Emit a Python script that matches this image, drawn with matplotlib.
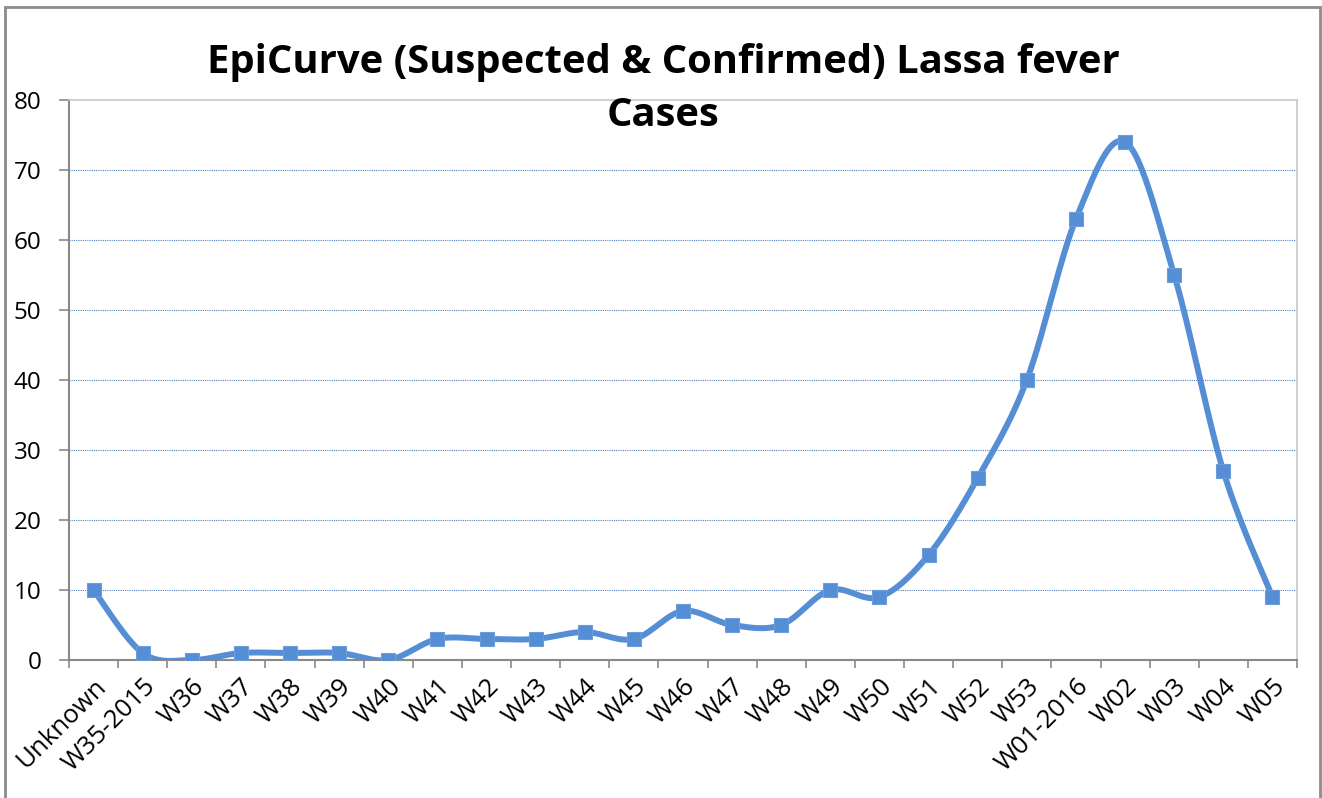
import numpy as np
import matplotlib
matplotlib.use("Agg")
import matplotlib.pyplot as plt
from matplotlib.patches import Rectangle

categories = ["Unknown", "W35-2015", "W36", "W37", "W38", "W39", "W40", "W41", "W42",
              "W43", "W44", "W45", "W46", "W47", "W48", "W49", "W50", "W51", "W52",
              "W53", "W01-2016", "W02", "W03", "W04", "W05"]
cases = [10, 1, 0, 1, 1, 1, 0, 3, 3, 3, 4, 3, 7, 5, 5, 10, 9, 15, 26, 40, 63, 74, 55, 27, 9]
yticks = [0, 10, 20, 30, 40, 50, 60, 70, 80]
title = "EpiCurve (Suspected & Confirmed) Lassa fever\nCases"

FONT = ["Open Sans", "DejaVu Sans"]
plt.rcParams["font.family"] = FONT

W, H = 1322, 798
fig = plt.figure(figsize=(W / 100, H / 100), dpi=100)
ax = fig.add_axes([69 / W, 1 - 660 / H, (1297 - 69) / W, (660 - 100) / H])


def smooth(xs, ys, n=30):
    # Bezier smoothing (Catmull-Rom style, like spreadsheet smoothed lines)
    xs = np.asarray(xs, float)
    ys = np.asarray(ys, float)
    px = np.concatenate([[xs[0]], xs, [xs[-1]]])
    py = np.concatenate([[ys[0]], ys, [ys[-1]]])
    outx, outy = [], []
    t = np.linspace(0, 1, n)
    for i in range(1, len(px) - 2):
        p0 = np.array([px[i], py[i]])
        p3 = np.array([px[i + 1], py[i + 1]])
        c1 = p0 + (np.array([px[i + 1], py[i + 1]]) - np.array([px[i - 1], py[i - 1]])) / 6
        c2 = p3 - (np.array([px[i + 2], py[i + 2]]) - np.array([px[i], py[i]])) / 6
        b = ((1 - t) ** 3)[:, None] * p0 + (3 * (1 - t) ** 2 * t)[:, None] * c1 + \
            (3 * (1 - t) * t ** 2)[:, None] * c2 + (t ** 3)[:, None] * p3
        outx.extend(b[:, 0])
        outy.extend(b[:, 1])
    return np.array(outx), np.array(outy)


x = np.arange(len(categories))
sx, sy = smooth(x, cases)
ax.plot(sx, sy, color="#558ED5", lw=4.3, solid_capstyle="round", zorder=3)
ax.plot(x, cases, ls="none", marker="s", ms=9.8, mfc="#558ED5", mec="#6C9DDB",
        mew=0.8, zorder=4)

ax.set_xlim(-0.5, len(categories) - 0.5)
ax.set_ylim(0, 80)
ax.set_yticks(yticks)
ax.set_yticklabels([str(v) for v in yticks], fontsize=17.5)
for v in yticks[1:-1]:
    ax.axhline(v, color="#4F81BD", lw=0.8, ls=(0, (1, 1)), zorder=1)

ax.set_xticks(np.arange(-0.5, len(categories), 1.0))
ax.set_xticklabels([])
ax.set_xticks(x, minor=True)
ax.set_xticklabels(categories, minor=True, rotation=45, ha="right", va="top",
                   rotation_mode="anchor", fontsize=18.5)
ax.tick_params(axis="x", which="minor", length=0, pad=10)
ax.tick_params(axis="x", which="major", length=6, width=1.2, color="#898989", direction="out")
ax.tick_params(axis="y", length=7, width=1.2, color="#898989", direction="out", pad=13)

for s in ["left", "bottom"]:
    ax.spines[s].set_color("#898989")
    ax.spines[s].set_linewidth(1.5)
for s in ["top", "right"]:
    ax.spines[s].set_color("#C8C8C8")
    ax.spines[s].set_linewidth(1.2)

fig.text(663 / W, 1 - 89 / H, title, ha="center", va="center", fontsize=28.8,
         fontweight="bold", linespacing=1.45)

fig.add_artist(Rectangle((4.5 / W, -0.01), (1319.5 - 4.5) / W, 1 - 7 / H + 0.01,
                         transform=fig.transFigure, fill=False, ec="#8C8C8C", lw=2))

fig.savefig("out.png", dpi=100)
